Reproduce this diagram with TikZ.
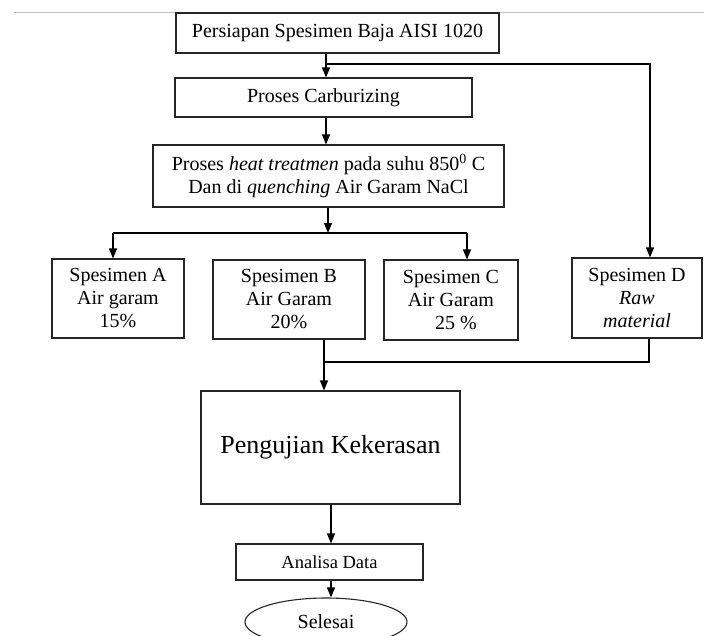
\documentclass[tikz,border=0pt]{standalone}
\usepackage{fontspec}
\setmainfont{Liberation Serif}
\usetikzlibrary{arrows.meta,shapes.geometric}
\begin{document}
\begin{tikzpicture}[x=1pt,y=-1pt,
  box/.style={draw=black!85,line width=1.1pt,inner sep=0pt,align=center,font=\fontsize{20}{23}\selectfont},
  arr/.style={line width=1.2pt,-{Triangle[length=10pt,width=8pt]}},
  ln/.style={line width=1.2pt}]
\useasboundingbox (0,0) rectangle (704,635);
\draw[black!25,line width=1pt] (14,12) -- (704,12);
% nodes
\node[box,minimum width=323pt,minimum height=40pt] (b1) at (337.5,33) {Persiapan Spesimen Baja AISI 1020};
\node[box,minimum width=297pt,minimum height=39pt] (b2) at (323.5,97.5) {Proses Carburizing};
\node[box,minimum width=351pt,minimum height=62pt] (b3) at (328.5,176) {Proses \textit{heat treatmen} pada suhu 850\textsuperscript{0} C\\Dan di \textit{quenching} Air Garam NaCl};
\node[box,minimum width=132pt,minimum height=79pt] (sa) at (118,298.5) {Spesimen A\\Air garam\\15\%};
\node[box,minimum width=152pt,minimum height=79pt] (sb) at (289,299.5) {Spesimen B\\Air Garam\\20\%};
\node[box,minimum width=134pt,minimum height=80pt] (sc) at (451,300) {Spesimen C\\Air Garam\\\ \ 25 \%};
\node[box,minimum width=130pt,minimum height=80pt] (sd) at (637,298) {Spesimen D\\\textit{Raw}\\\textit{material}};
\node[box,minimum width=259pt,minimum height=113pt,font=\fontsize{26}{30}\selectfont] (pk) at (330.5,447.5) {Pengujian Kekerasan};
\node[box,minimum width=187pt,minimum height=36pt,font=\fontsize{18.5}{22}\selectfont] (ad) at (329.5,562) {Analisa Data};
\node[box,ellipse,minimum width=162pt,minimum height=48pt,inner sep=0pt,font=\fontsize{20}{23}\selectfont] (se) at (326,622) {};
\node[font=\fontsize{20}{23}\selectfont] (setext) at (se.center) {\raisebox{-3pt}{Selesai}};
% helper coordinates
\coordinate (x1) at (326,0);
\coordinate (j1) at (326,64);
\coordinate (xd) at (650,0);
\coordinate (x3) at (328,0);
\coordinate (h1) at (328,233);
\coordinate (xa) at (113,0);
\coordinate (xc) at (467,0);
\coordinate (xb) at (324,0);
\coordinate (j2) at (324,362);
\coordinate (x4) at (331,0);
% connectors
\draw[arr] (b1.south -| x1) -- (b2.north -| x1);
\draw[arr] (j1) -| (sd.north -| xd);
\draw[arr] (b2.south -| x1) -- (b3.north -| x1);
\draw[arr] (b3.south -| x3) -- (h1);
\draw[ln] (h1 -| xa) -- (h1 -| xc);
\draw[arr] (h1 -| xa) -- (sa.north -| xa);
\draw[arr] (h1 -| xc) -- (sc.north -| xc);
\draw[arr] (sb.south -| xb) -- (pk.north -| xb);
\draw[ln] (sd.south -| 649,0) |- (j2);
\draw[arr] (pk.south -| x4) -- (ad.north -| x4);
\draw[arr] (ad.south -| x4) -- (se.north -| x4);
\end{tikzpicture}
\end{document}
